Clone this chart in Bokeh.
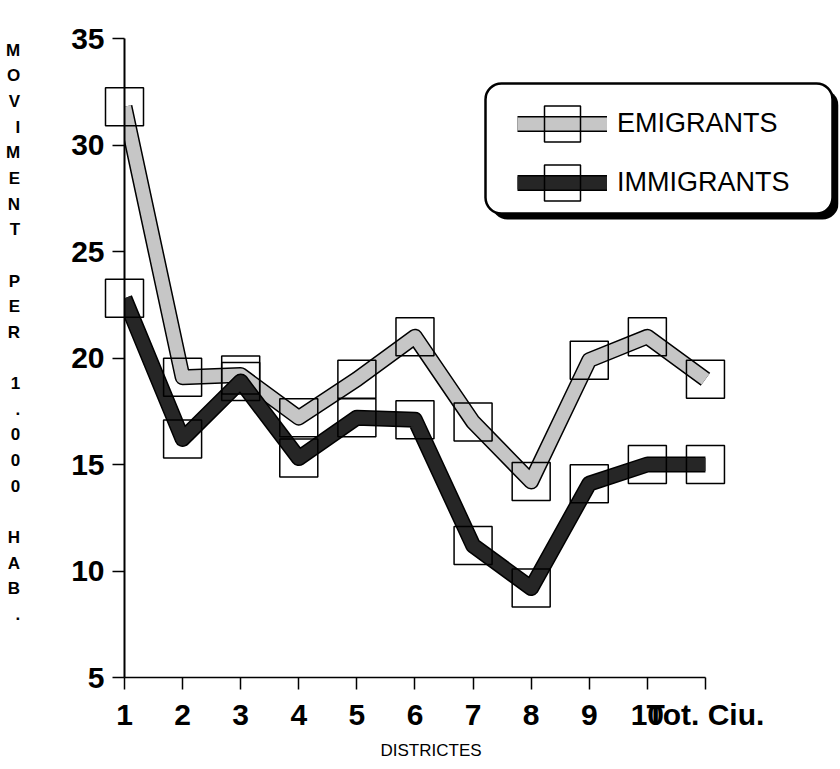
from bokeh.plotting import figure
from bokeh.models import Range1d, FixedTicker, Legend, LegendItem, BoxAnnotation, Title
from bokeh.embed import file_html
from bokeh.resources import INLINE

# ---- data ----
districts = ["1", "2", "3", "4", "5", "6", "7", "8", "9", "10", "Tot. Ciu."]
emigrants = [31.8, 19.1, 19.2, 17.2, 19.0, 21.0, 17.0, 14.2, 19.9, 21.0, 19.0]
immigrants = [22.8, 16.2, 18.9, 15.3, 17.2, 17.1, 11.2, 9.2, 14.1, 15.0, 15.0]
y_ticks = [5, 10, 15, 20, 25, 30, 35]
series_names = ["EMIGRANTS", "IMMIGRANTS"]
x_title = "DISTRICTES"
y_title = "MOVIMENT PER 1.000 HAB."

xs = list(range(1, len(districts) + 1))

FONT = "Liberation Sans"

# the frame runs on to the right past the last district so that the legend
# (which overhangs the axis end in the reference) is not clipped
X_END = 13.29

p = figure(width=840, height=769, output_backend="svg", toolbar_location=None,
           x_range=Range1d(xs[0], X_END), y_range=Range1d(y_ticks[0], y_ticks[-1]),
           min_border_left=124, min_border_right=2, min_border_top=38, min_border_bottom=92)
p.grid.visible = False
p.outline_line_color = None
p.background_fill_color = "white"
p.border_fill_color = "white"

# ---- x axis ----
xa = p.xaxis[0]
xa.ticker = FixedTicker(ticks=xs)
xa.bounds = (xs[0], xs[-1])
xa.major_label_overrides = {x: lab for x, lab in zip(xs, districts)}
xa.major_tick_out = 12
xa.major_tick_in = 0
xa.minor_tick_line_color = None
xa.axis_line_width = 1.5
xa.major_tick_line_width = 1.5
xa.major_label_text_font = FONT
xa.major_label_text_font_size = "30px"
xa.major_label_text_font_style = "bold"
xa.major_label_text_color = "black"
xa.major_label_standoff = 8

# x-axis title, centred under the district ticks (not under the whole frame)
p.add_layout(Title(text=x_title, align="left", offset=256, standoff=10,
                   text_font=FONT, text_font_size="17px", text_font_style="normal",
                   text_color="black"), "below")

# ---- y axis ----
ya = p.yaxis[0]
ya.ticker = FixedTicker(ticks=y_ticks)
ya.major_tick_out = 12
ya.major_tick_in = 0
ya.minor_tick_line_color = None
ya.axis_line_width = 2
ya.major_tick_line_width = 1.5
ya.major_label_text_font = FONT
ya.major_label_text_font_size = "30px"
ya.major_label_text_font_style = "bold"
ya.major_label_text_color = "black"
ya.major_label_standoff = 8
ya.axis_label = "\n".join(ch if ch != " " else "" for ch in y_title) + "\n\n"
ya.axis_label_orientation = "horizontal"
ya.axis_label_text_font = FONT
ya.axis_label_text_font_size = "17px"
ya.axis_label_text_font_style = "bold"
ya.axis_label_text_line_height = 1.35
ya.axis_label_text_align = "center"
ya.axis_label_text_color = "black"
ya.axis_label_standoff = 48

# ---- series ----
em_outer = p.line(xs, emigrants, line_color="black", line_width=16, line_join="round")
em_inner = p.line(xs, emigrants, line_color="#c6c6c6", line_width=13, line_join="round")
im_outer = p.line(xs, immigrants, line_color="black", line_width=16, line_join="round")
im_inner = p.line(xs, immigrants, line_color="#262626", line_width=13, line_join="round")
em_box = p.scatter(xs, emigrants, marker="square", size=38, fill_alpha=0,
                   line_color="black", line_width=1.5, level="overlay")
im_box = p.scatter(xs, immigrants, marker="square", size=38, fill_alpha=0,
                   line_color="black", line_width=1.5, level="overlay")

# ---- legend frame (rounded box with drop shadow) ----
su = dict(left_units="screen", right_units="screen", top_units="screen", bottom_units="screen")
shadow = BoxAnnotation(left=367, right=714, top=588, bottom=458, fill_color="black",
                       fill_alpha=1, line_alpha=0, border_radius=16, level="overlay", **su)
frame_box = BoxAnnotation(left=361, right=708, top=594, bottom=464, fill_color="white",
                          fill_alpha=1, line_color="black", line_alpha=1, line_width=2.5,
                          border_radius=16, level="overlay", **su)
p.add_layout(shadow)
p.add_layout(frame_box)

legend_rows = [([em_outer, em_inner, em_box], 506), ([im_outer, im_inner, im_box], 447)]
for name, (rends, ypos) in zip(series_names, legend_rows):
    lg = Legend(items=[LegendItem(label=name, renderers=rends)],
                location=(393, ypos), glyph_width=90, glyph_height=95, spacing=0,
                padding=0, margin=0, label_standoff=10,
                label_text_font=FONT, label_text_font_size="27px", label_text_color="black",
                border_line_alpha=0, background_fill_alpha=0, level="overlay")
    p.add_layout(lg)

open("out.html", "w").write(file_html(p, INLINE))
